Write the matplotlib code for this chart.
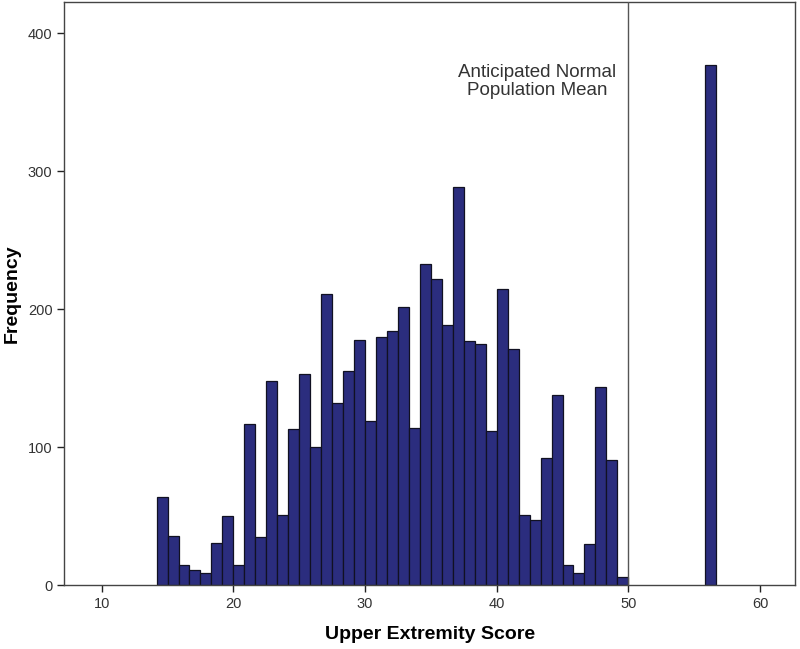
import matplotlib
matplotlib.use("Agg")
import matplotlib.pyplot as plt
import numpy as np

plt.rcParams['font.family'] = ['Liberation Sans', 'DejaVu Sans']

# Histogram bins (SPSS-style bin width 5/6)
bin_start = 14 + 1/6
bin_width = 5/6
counts = [64, 36, 15, 11, 9, 31, 50, 15, 117, 35,
          148, 51, 113, 153, 100, 211, 132, 155, 178, 119,
          180, 184, 202, 114, 233, 222, 189, 289, 177, 175,
          112, 215, 171, 51, 47, 92, 138, 15, 9, 30,
          144, 91, 6]
extra_bin_index = 50
extra_count = 377
mean_line = 50
annotation = "Anticipated Normal\nPopulation Mean"
annotation_x = 43.05
xticks = [10, 20, 30, 40, 50, 60]
yticks = [0, 100, 200, 300, 400]

fig = plt.figure(figsize=(8, 6.49), dpi=100)
ax = fig.add_axes([0.0804, 0.0981, 0.9134, 0.8988])

lefts = bin_start + np.arange(len(counts)) * bin_width
ax.bar(lefts, counts, width=bin_width, align='edge', color='#2b2d7e',
       edgecolor='#111122', linewidth=0.9, zorder=2)
ax.bar([bin_start + extra_bin_index * bin_width], [extra_count], width=bin_width,
       align='edge', color='#2b2d7e', edgecolor='#111122', linewidth=0.9, zorder=2)

ax.axvline(mean_line, color='#555555', linewidth=1.0, zorder=3)
ax.text(annotation_x, 365, annotation, ha='center', va='center', fontsize=13.5,
        color='#333333', linespacing=1.12)

ax.set_xlim(7.16, 62.66)
ax.set_ylim(0, 422.7)
ax.set_xticks(xticks)
ax.set_yticks(yticks)
ax.tick_params(axis='both', direction='out', length=5, width=1, labelsize=10.5,
               colors='#222222', labelcolor='#333333')
for s in ax.spines.values():
    s.set_color('#444444')
    s.set_linewidth(1.0)

ax.set_xlabel('Upper Extremity Score', fontsize=14, fontweight='bold')
ax.set_ylabel('Frequency', fontsize=14, fontweight='bold')
ax.xaxis.set_label_coords(0.5005, -0.0835)
ax.yaxis.set_label_coords(-0.0716, 0.5)
ax.xaxis.label.set_va('center')
ax.yaxis.label.set_va('center')

fig.savefig('out.png', dpi=100)
